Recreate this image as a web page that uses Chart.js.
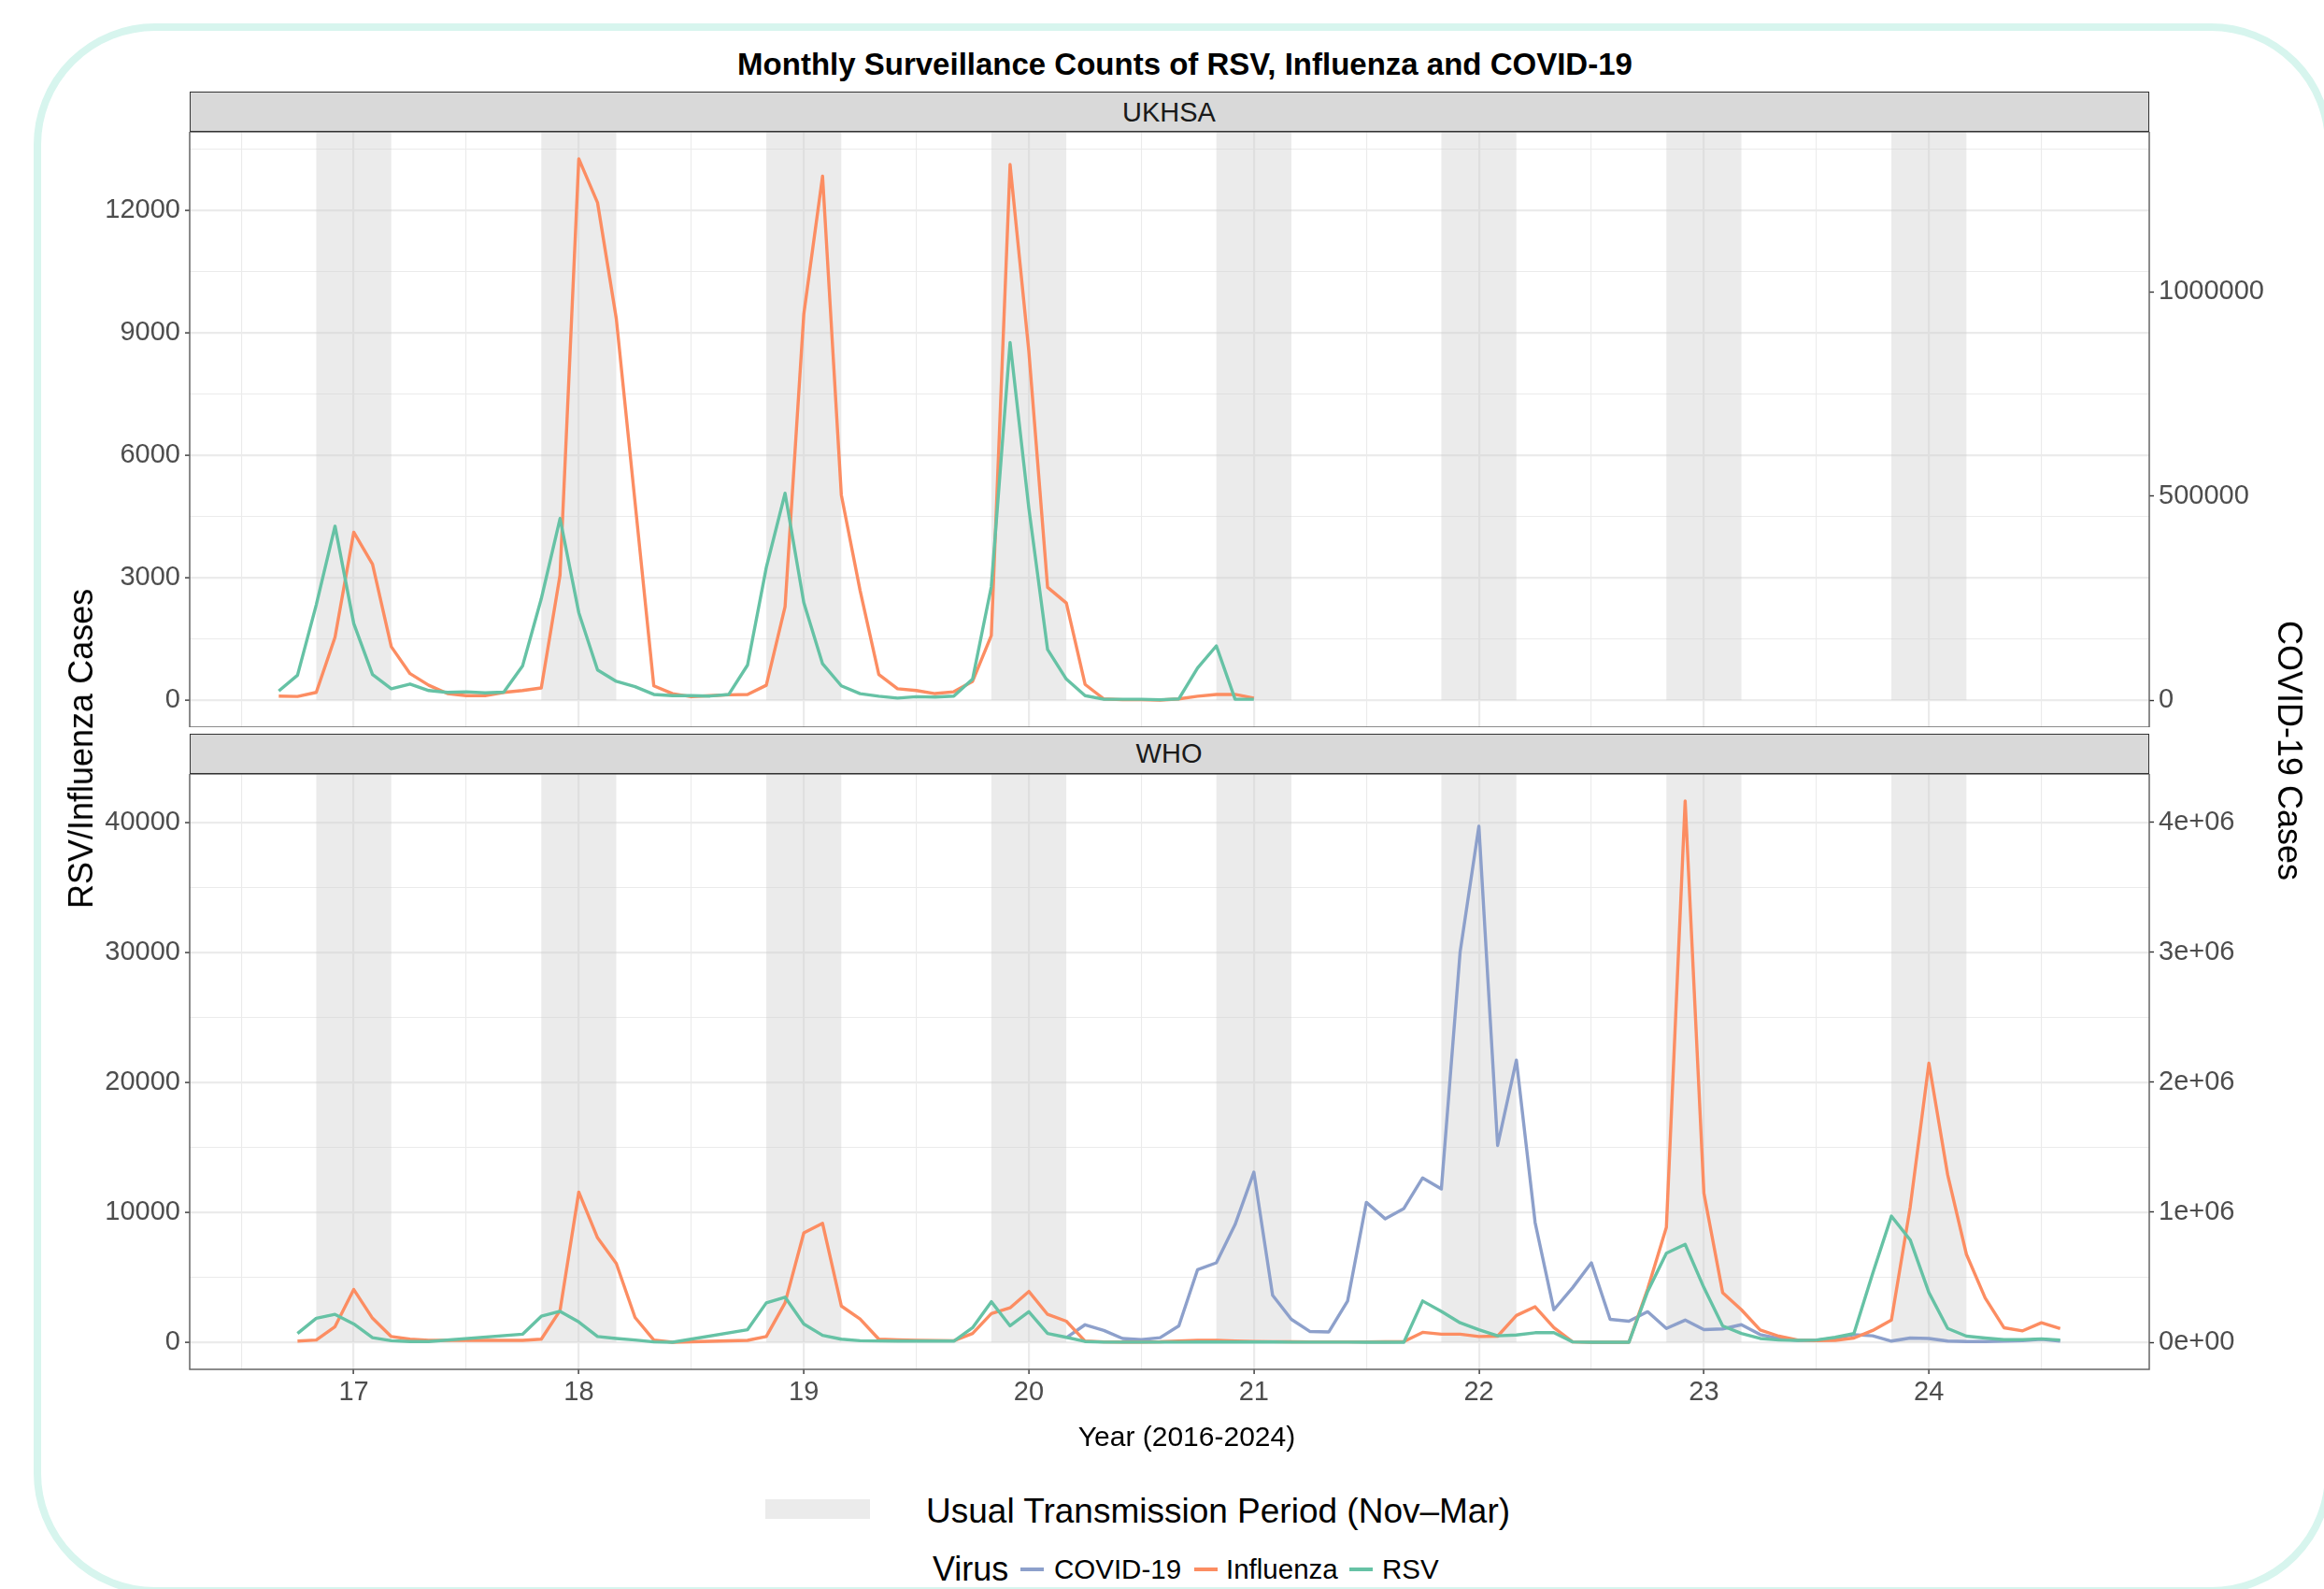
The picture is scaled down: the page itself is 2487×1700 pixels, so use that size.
<!DOCTYPE html>
<html>
<head>
<meta charset="utf-8">
<script src="https://cdn.jsdelivr.net/npm/chart.js@4.4.1/dist/chart.umd.min.js"></script>
<style>
  body { margin: 0; background: #fff; }
  #page { position: relative; width: 2487px; height: 1700px; overflow: hidden;
          font-family: 'Liberation Sans', Arial, Helvetica, sans-serif; color: #000; }
  .frame { position: absolute; left: 36px; top: 25px; width: 2460px; height: 1681px;
           border: 8px solid #d7f5ee; border-radius: 130px; box-sizing: border-box; }
  .txt { position: absolute; white-space: nowrap; line-height: 1; }
  .c { transform: translate(-50%, -50%); }
  .strip { position: absolute; left: 203px; width: 2097px; height: 43px; background: #d9d9d9;
           border: 1.5px solid #333; box-sizing: border-box; }
  canvas { position: absolute; left: 0; }
  .key { position: absolute; height: 4px; }
</style>
</head>
<body>
<div id="page">
  <div class="frame"></div>

  <div class="txt c" style="left:1268px; top:68px; font-size:33px; font-weight:bold;">Monthly Surveillance Counts of RSV, Influenza and COVID-19</div>

  <div class="strip" style="top:98px;"></div>
  <div class="txt c" style="left:1251px; top:120px; font-size:29px; color:#1a1a1a;">UKHSA</div>
  <canvas id="ukhsa" width="2487" height="637" style="top:141px; width:2487px; height:637px;"></canvas>

  <div class="strip" style="top:785px;"></div>
  <div class="txt c" style="left:1251px; top:806px; font-size:29px; color:#1a1a1a;">WHO</div>
  <canvas id="who" width="2487" height="697" style="top:828px; width:2487px; height:697px;"></canvas>

  <div class="txt c" style="left:87px; top:801px; font-size:36px; transform: translate(-50%, -50%) rotate(-90deg);">RSV/Influenza Cases</div>
  <div class="txt c" style="left:2450px; top:803px; font-size:36px; transform: translate(-50%, -50%) rotate(90deg);">COVID-19 Cases</div>
  <div class="txt c" style="left:1270px; top:1537px; font-size:30px;">Year (2016-2024)</div>

  <div style="position:absolute; left:819px; top:1604px; width:112px; height:21px; background:#ebebeb;"></div>
  <div class="txt" style="left:991px; top:1616px; font-size:37px; transform: translateY(-50%);">Usual Transmission Period (Nov–Mar)</div>

  <div class="txt" style="left:998px; top:1679px; font-size:36px; transform: translateY(-50%);">Virus</div>
  <div class="key" style="left:1092px; top:1677px; width:25px; background:#8da0cb;"></div>
  <div class="txt" style="left:1128px; top:1679px; font-size:29.5px; transform: translateY(-50%);">COVID-19</div>
  <div class="key" style="left:1278px; top:1677px; width:25px; background:#fc8d62;"></div>
  <div class="txt" style="left:1312px; top:1679px; font-size:29.5px; transform: translateY(-50%);">Influenza</div>
  <div class="key" style="left:1444px; top:1677px; width:25px; background:#66c2a5;"></div>
  <div class="txt" style="left:1479px; top:1679px; font-size:29.5px; transform: translateY(-50%);">RSV</div>
</div>

<script>
// ---- data (monthly counts) ----

// UKHSA, Sep 2016 - Jan 2021
const ukStart = '2016-09';
const ukInfluenza = [
  100, 90, 190, 1540,
  4115, 3330, 1310, 650, 365, 160, 110, 110, 190, 235, 300, 3065,
  13265, 12190, 9350, 4850, 350, 160, 85, 110, 130, 140, 365, 2290,
  9460, 12840, 5030, 2690, 630, 280, 235, 160, 205, 460, 1585, 13125,
  8550, 2765, 2380, 385, 30, 10, 10, 0, 30, 95, 140, 140,
  50
];
const ukRsv = [
  225, 610, 2335, 4265,
  1875, 630, 280, 395, 235, 190, 205, 180, 195, 835, 2485, 4450,
  2145, 740, 460, 330, 140, 110, 110, 100, 140, 860, 3250, 5070,
  2390, 890, 350, 160, 95, 50, 85, 75, 100, 515, 2785, 8765,
  4705, 1240, 515, 110, 20, 20, 20, 10, 30, 790, 1330, 20,
  20
];

// WHO, Oct 2016 - Aug 2024 (null = month not reported)
const whoStart = '2016-10';
const whoInfluenza = [
  90, 175, 1205,
  4060, 1850, 440, 235, 150, null, null, null, null, 150, 235, 2440,
  11550, 8030, 6060, 1910, 175, 0, null, null, null, 150, 440, 3030,
  8410, 9145, 2790, 1790, 235, 180, 150, 130, 120, 675, 2200, 2650,
  3910, 2145, 1620, 90, 30, 20, 20, 40, 100, 150, 150, 100,
  60, 50, 40, 30, 30, 30, 30, 40, 60, 765, 620, 620,
  440, 470, 2060, 2730, 1120, 30, 0, 0, 0, 4100, 8850, 41630,
  11470, 3820, 2500, 940, 470, 175, 120, 150, 325, 910, 1705, 10380,
  21460, 12880, 6760, 3410, 1120, 880, 1500, 1060
];
const whoRsv = [
  675, 1850, 2145,
  1410, 350, 120, 60, 60, null, null, null, null, 620, 2000, 2380,
  1560, 440, 295, 175, 30, 0, null, null, null, 970, 3030, 3470,
  1410, 530, 235, 120, 100, 90, 90, 90, 90, 1120, 3120, 1265,
  2350, 675, 380, 60, 10, 10, 10, 10, 10, 20, 20, 20,
  20, 20, 10, 10, 10, 10, 0, 0, 0, 3175, 2380, 1500,
  970, 500, 560, 735, 735, 30, 0, 0, 0, 3910, 6850, 7530,
  4200, 1265, 675, 295, 175, 150, 175, 380, 675, 5290, 9700, 7880,
  3820, 1060, 470, 325, 205, 205, 265, 175
];

// WHO COVID-19, Mar 2020 - Aug 2024 (right axis)
const covidStart = '2020-03';
const whoCovid = [
  35000, 135000, 91000, 29500, 20500, 35000, 126500, 559000, 611500, 905500,
  1308000, 361500, 176500, 82500, 79500, 317500, 1076000, 950000, 1029000, 1264000, 1179000, 3002000,
  3969000, 1514000, 2170000, 920000, 250000, 420000, 611500, 176500, 162000, 235000, 106000, 170500,
  97000, 103000, 135000, 59000, 29500, 15000, 15000, 32500, 59000, 50000, 9000, 32500,
  29500, 9000, 6000, 6000, 9000, 12000, 23500, 9000
];

// winters shaded Nov-Mar, named by the year they end in
const seasons = [17, 18, 19, 20, 21, 22, 23, 24];
const xTickLabels = ['17', '18', '19', '20', '21', '22', '23', '24'];
const ukTicks = [0, 3000, 6000, 9000, 12000];
const ukRightTicks = [0, 500000, 1000000];
const whoTicks = [0, 10000, 20000, 30000, 40000];
const whoRightTicks = [0, 1000000, 2000000, 3000000, 4000000];
const covidScale = 100;

const colors = { covid: '#8da0cb', influenza: '#fc8d62', rsv: '#66c2a5' };
const FONT = "'Liberation Sans', Arial, Helvetica, sans-serif";

// ---- helpers ----
function toYear(label) {
  const [y, m] = label.split('-').map(Number);
  return (y - 2000) + (m - 1) / 12;
}
function points(start, values) {
  const x0 = toYear(start);
  const out = [];
  values.forEach((v, i) => { if (v !== null) out.push({ x: x0 + i / 12, y: v }); });
  return out;
}
function sci(v) {
  if (v === 0) return '0e+00';
  const e = Math.floor(Math.log10(v));
  return (v / Math.pow(10, e)) + 'e+' + String(e).padStart(2, '0');
}
function withMinors(majors) {
  const step = majors[1] - majors[0];
  const out = [];
  majors.forEach(v => { out.push(v); out.push(v + step / 2); });
  return out;
}
// fixed axis box, no extra label padding eating into the panel
function fixBox(size, horizontal) {
  return s => {
    if (horizontal) s.height = size; else s.width = size;
    s.paddingTop = 0; s.paddingBottom = 0; s.paddingLeft = 0; s.paddingRight = 0;
  };
}

// x range: first and last month in the data, padded 5% like ggplot
const xFirst = toYear(ukStart);
const xLast = toYear(whoStart) + (whoInfluenza.length - 1) / 12;
const xPad = (xLast - xFirst) * 0.05;
const xMin = xFirst - xPad, xMax = xLast + xPad;
const xMajor = xTickLabels.map(Number);
const xGrid = [xMajor[0] - 0.5].concat(withMinors(xMajor));

const isMajorX = v => Math.abs(v - Math.round(v)) < 1e-6;

// ---- plugins ----
const bandsPlugin = {
  id: 'bands',
  beforeDatasetsDraw(chart) {
    const { ctx, chartArea: a, scales } = chart;
    const y0 = scales.y.getPixelForValue(0);
    ctx.save();
    ctx.fillStyle = 'rgba(204,204,204,0.4)';
    seasons.forEach(yr => {
      const x0 = scales.x.getPixelForValue(yr - 1 + 10 / 12);
      const x1 = scales.x.getPixelForValue(yr + 2 / 12);
      ctx.fillRect(x0, a.top, x1 - x0, y0 - a.top);
    });
    ctx.restore();
  }
};
const borderPlugin = {
  id: 'panelBorder',
  afterDatasetsDraw(chart) {
    const { ctx, chartArea: a } = chart;
    ctx.save();
    ctx.strokeStyle = '#666';
    ctx.lineWidth = 1.5;
    ctx.strokeRect(a.left, a.top, a.right - a.left, a.bottom - a.top);
    ctx.restore();
  }
};

// ---- one facet panel ----
function panel(id, cfg) {
  const yPad = cfg.dataMax * 0.05;
  const yMin = -yPad, yMax = cfg.dataMax + yPad;
  const majorStep = cfg.ticks[1] - cfg.ticks[0];
  const yGrid = withMinors(cfg.ticks).filter(v => v <= yMax);
  const tickFont = { family: FONT, size: 29 };

  return new Chart(document.getElementById(id), {
    type: 'line',
    data: { datasets: cfg.datasets },
    options: {
      responsive: false,
      animation: false,
      devicePixelRatio: 1,
      layout: { padding: 0 },
      elements: {
        point: { radius: 0 },
        line: { tension: 0, borderWidth: 3.4, borderJoinStyle: 'round', borderCapStyle: 'butt' }
      },
      plugins: { legend: { display: false }, tooltip: { enabled: false } },
      scales: {
        x: {
          type: 'linear', min: xMin, max: xMax,
          afterBuildTicks: s => { s.ticks = xGrid.map(v => ({ value: v })); },
          afterFit: fixBox(cfg.xHeight, true),
          border: { display: false },
          grid: {
            color: '#ebebeb',
            lineWidth: c => (c.tick && isMajorX(c.tick.value)) ? 2.2 : 1.1,
            drawTicks: cfg.showX, tickLength: 5, tickWidth: 1.4,
            tickColor: c => (c.tick && isMajorX(c.tick.value)) ? '#333' : 'rgba(0,0,0,0)'
          },
          ticks: {
            display: cfg.showX, autoSkip: false, maxRotation: 0, minRotation: 0,
            padding: 3, color: '#4d4d4d', font: tickFont,
            callback: v => isMajorX(v) ? String(Math.round(v)) : ''
          }
        },
        y: {
          position: 'left', min: yMin, max: yMax,
          afterBuildTicks: s => { s.ticks = yGrid.map(v => ({ value: v })); },
          afterFit: fixBox(203, false),
          border: { display: false },
          grid: {
            color: '#ebebeb',
            lineWidth: c => (c.tick && c.tick.value % majorStep === 0) ? 2.2 : 1.1,
            tickLength: 5, tickWidth: 1.4,
            tickColor: c => (c.tick && c.tick.value % majorStep === 0) ? '#333' : 'rgba(0,0,0,0)'
          },
          ticks: {
            autoSkip: false, padding: 5, color: '#4d4d4d', font: tickFont,
            callback: v => v % majorStep === 0 ? String(v) : ''
          }
        },
        y1: {
          position: 'right', min: yMin * covidScale, max: yMax * covidScale,
          afterBuildTicks: s => { s.ticks = cfg.rightTicks.map(v => ({ value: v })); },
          afterFit: fixBox(187, false),
          border: { display: false },
          grid: { drawOnChartArea: false, tickLength: 5, tickWidth: 1.4, tickColor: '#333' },
          ticks: { autoSkip: false, padding: 5, color: '#4d4d4d', font: tickFont, callback: cfg.rightFormat }
        }
      }
    },
    plugins: [bandsPlugin, borderPlugin]
  });
}

function series(label, color, pts, order, axis) {
  return { label, data: pts, borderColor: color, backgroundColor: color, order, yAxisID: axis || 'y', clip: 0 };
}

panel('ukhsa', {
  dataMax: Math.max(...ukInfluenza, ...ukRsv),
  ticks: ukTicks,
  rightTicks: ukRightTicks,
  rightFormat: v => String(v),
  showX: false,
  xHeight: 0,
  datasets: [
    series('Influenza', colors.influenza, points(ukStart, ukInfluenza), 2),
    series('RSV', colors.rsv, points(ukStart, ukRsv), 1)
  ]
});

panel('who', {
  dataMax: Math.max(...whoInfluenza.filter(v => v !== null), ...whoRsv.filter(v => v !== null),
                    ...whoCovid.map(v => v / covidScale)),
  ticks: whoTicks,
  rightTicks: whoRightTicks,
  rightFormat: v => sci(v),
  showX: true,
  xHeight: 60,
  datasets: [
    series('COVID-19', colors.covid, points(covidStart, whoCovid), 3, 'y1'),
    series('Influenza', colors.influenza, points(whoStart, whoInfluenza), 2),
    series('RSV', colors.rsv, points(whoStart, whoRsv), 1)
  ]
});
</script>
</body>
</html>
